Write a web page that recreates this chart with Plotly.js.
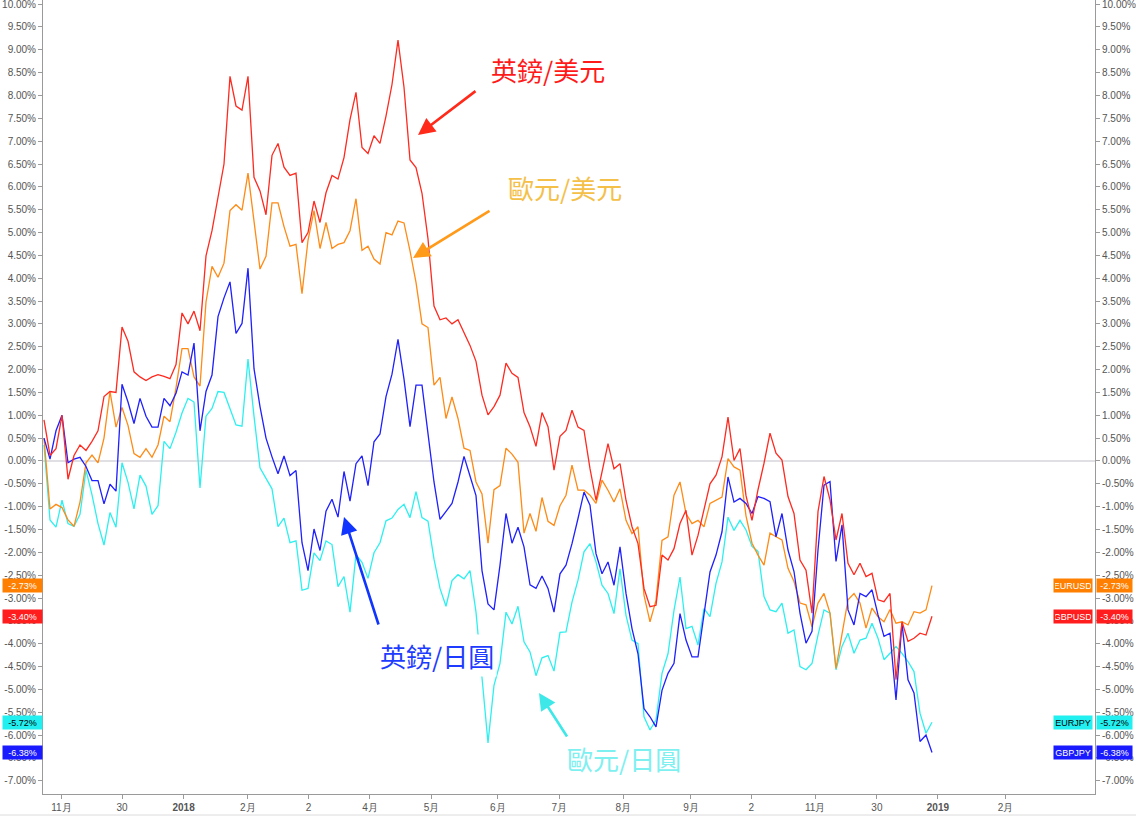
<!DOCTYPE html>
<html><head><meta charset="utf-8">
<script src="https://cdn.plot.ly/plotly-3.0.1.min.js"></script>
<style>html,body{margin:0;padding:0;background:#fff;}#chart{width:1136px;height:820px;}</style>
</head><body><div id="chart"></div>
<script>
// ---- data (percent change), one value per ~2 trading days ----
const seriesNames = ['GBPUSD','EURUSD','GBPJPY','EURJPY'];
const seriesLabels = ['英鎊/美元','歐元/美元','英鎊/日圓','歐元/日圓'];
const gbpusd = [0.9,0.12,0.27,1.0,-0.4,0.12,0.35,0.23,0.43,0.66,
 1.41,1.52,1.5,2.93,2.62,1.95,1.84,1.76,1.84,1.89,
 1.85,1.8,2.11,3.24,3.0,3.28,2.85,4.49,5.04,5.74,
 6.5,8.42,7.77,7.68,8.42,6.21,5.91,5.39,6.69,6.95,
 6.43,6.25,6.3,4.78,5.0,5.69,5.22,5.87,6.25,6.17,
 6.64,7.47,8.07,6.86,6.73,7.12,6.95,7.55,8.24,
 9.21,8.18,6.59,6.42,5.86,4.86,3.39,3.09,3.13,3.0,
 3.09,2.79,2.53,2.18,1.44,1.01,1.19,1.44,2.14,1.92,
 1.83,1.06,0.75,0.32,1.06,0.75,-0.2,0.54,0.67,
 1.11,0.74,0.67,-0.17,-0.86,-0.24,0.38,-0.17,-0.06,-0.86,
 -1.44,-1.81,-2.79,-3.19,-3.16,-2.06,-2.17,-1.92,-1.37,-1.08,
 -2.06,-1.63,-1.08,-0.5,-0.31,0.09,0.96,0.01,0.27,
 -0.76,-1.3,-0.63,-0.05,0.61,0.17,0.02,-0.78,-1.15,-2.17,
 -2.39,-3.33,-1.11,-0.34,-0.85,-1.73,-1.15,-2.24,-2.49,-2.24,
 -2.53,-2.46,-3.04,-3.08,-2.9,-4.79,-3.52,-3.95,-3.88,-3.77,
 -3.81,-3.40];
const eurusd = [0.5,-1.05,-0.95,-1.02,-1.29,-1.43,-0.9,-0.04,0.13,-0.04,
 0.5,1.52,0.74,1.17,0.78,0.16,0.08,0.27,0.08,0.35,
 0.98,0.86,1.6,2.46,2.46,1.84,1.64,3.48,4.26,4.02,
 4.33,5.48,5.61,5.49,6.3,5.26,4.2,4.48,5.65,5.65,
 5.13,4.7,4.74,3.66,4.83,5.48,4.65,5.22,4.65,4.74,
 4.78,5.04,5.74,4.61,4.7,4.42,4.31,5.0,4.95,
 5.25,5.21,4.6,3.91,3.0,2.92,1.66,1.83,0.93,1.4,
 0.93,0.28,0.23,-0.46,-0.72,-1.8,-0.63,-0.54,0.28,0.15,
 -0.03,-1.58,-1.15,-1.54,-0.8,-1.32,-1.41,-0.98,-0.75,
 -0.09,-0.64,-0.64,-0.75,-0.93,-0.42,-0.64,-0.9,-0.61,-1.3,
 -1.59,-1.44,-2.94,-3.52,-3.05,-1.74,-1.66,-0.75,-0.46,-1.15,
 -1.37,-1.3,-1.44,-0.93,-0.86,-0.79,0.05,-0.13,-0.2,
 -1.2,-1.8,-2.06,-2.28,-1.58,-1.66,-1.73,-2.35,-2.64,-3.11,
 -3.15,-3.63,-3.11,-2.9,-3.33,-4.54,-3.77,-3.04,-2.9,-3.11,
 -3.66,-3.22,-3.41,-3.52,-3.25,-3.55,-3.52,-3.59,-3.3,-3.33,
 -3.26,-2.73];
const gbpjpy = [0.5,0.04,0.66,1.0,-0.04,0.04,0.08,-0.12,-0.43,-0.43,
 -0.94,-0.51,-0.66,1.68,1.29,0.82,1.37,0.98,0.74,0.74,
 1.37,1.21,1.48,1.95,1.88,2.58,0.66,1.52,1.88,3.16,
 3.57,3.92,2.79,3.01,4.22,2.02,1.19,0.5,0.09,-0.28,
 0.11,-0.32,-0.21,-1.79,-2.4,-1.49,-1.96,-1.1,-0.84,-1.23,
 -0.23,-0.88,-0.06,0.11,-0.54,0.42,0.59,1.41,1.9,
 2.66,1.79,0.75,1.66,1.66,0.6,-0.46,-1.28,-1.11,-0.93,
 -0.46,0.1,-0.33,-0.76,-2.4,-3.13,-3.26,-2.28,-1.15,-1.8,
 -1.45,-1.88,-2.71,-2.79,-2.52,-2.79,-3.31,-2.47,-2.28,
 -1.81,-1.26,-0.68,-0.97,-2.03,-2.47,-2.21,-2.72,-1.88,-2.9,
 -3.67,-4.22,-5.42,-5.6,-5.82,-5.02,-4.65,-4.43,-3.34,-3.92,
 -4.29,-4.29,-3.34,-2.43,-2.06,-1.55,-0.35,-0.9,-0.82,
 -0.93,-1.15,-0.78,-0.82,-0.89,-1.66,-1.15,-1.95,-2.42,-3.33,
 -3.99,-3.73,-1.95,-0.53,-0.45,-2.2,-1.4,-3.26,-3.59,-2.9,
 -2.97,-2.82,-3.37,-3.84,-3.77,-5.23,-3.55,-4.79,-5.08,-6.14,
 -6.0,-6.38];
const eurjpy = [0.35,-1.29,-1.45,-0.86,-1.37,-1.43,-1.17,-0.2,-0.74,-1.37,
 -1.84,-1.13,-1.45,-0.04,-0.47,-1.05,-0.31,-0.55,-1.17,-0.98,
 0.43,0.27,0.63,1.05,1.37,1.29,-0.59,0.98,1.15,1.52,
 1.5,1.15,0.79,0.76,2.23,0.98,-0.15,-0.38,-0.61,-1.44,
 -1.25,-1.79,-1.75,-2.83,-2.79,-2.01,-2.18,-1.75,-1.83,-2.75,
 -2.53,-3.31,-2.05,-2.22,-2.57,-2.01,-1.79,-1.31,-1.25,
 -1.06,-0.95,-1.24,-0.67,-1.24,-1.32,-2.15,-2.79,-3.18,-2.62,
 -2.49,-2.58,-2.4,-3.31,-4.74,-6.17,-4.91,-4.43,-3.31,-3.57,
 -3.18,-3.96,-4.18,-4.7,-4.31,-4.26,-4.6,-3.75,-3.74,
 -3.09,-2.61,-1.99,-1.81,-2.21,-2.72,-2.9,-3.34,-2.36,-3.38,
 -3.92,-4.0,-5.6,-5.89,-5.67,-4.65,-4.22,-3.27,-2.54,-3.67,
 -3.62,-4.03,-3.23,-3.41,-2.68,-2.21,-1.23,-1.52,-1.3,
 -1.51,-1.87,-1.98,-2.97,-3.26,-3.3,-3.11,-3.77,-3.7,-4.5,
 -4.57,-4.43,-3.81,-3.26,-3.33,-4.57,-4.06,-3.77,-4.21,-3.92,
 -3.88,-3.55,-3.88,-4.35,-4.21,-4.06,-4.21,-4.39,-4.61,-5.52,
 -5.96,-5.72];
const xTickLabels = ['11月','30','2018','2月','2','4月','5月','6月','7月','8月','9月','2','11月','30','2019','2月'];
const xTickBold = ['2018','2019'];

// ---- positions / styles ----
const xTickIdx = [2.9,13,23.27,33.98,44.1,54.33,64.57,75.65,85.88,96.53,107.82,117.87,128.52,138.82,148.98,160.27];
const W=1136,H=820,L=43,R=41,T=0,B=26;
const PW=W-L-R, PH=H-T-B;
const pxX = p => (p-L)/PW;
const pxY = p => (H-B-p)/PH;
const yRange=[-7.29,10.09];
const xRange=[-1/6,(1095-44)/6];
const lineColors = {GBPUSD:'#ff2a1f',EURUSD:'#ff8a14',GBPJPY:'#1f1fff',EURJPY:'#2cf0f0'};
const boxColors  = {GBPUSD:'#ff1d1d',EURUSD:'#ff8000',GBPJPY:'#1a1aff',EURJPY:'#22f0f0'};
const boxText    = {GBPUSD:'#ffffff',EURUSD:'#ffffff',GBPJPY:'#ffffff',EURJPY:'#000000'};
const series = {GBPUSD:gbpusd,EURUSD:eurusd,GBPJPY:gbpjpy,EURJPY:eurjpy};
const idx = gbpusd.map((_,i)=>i);

const yTickVals=[], yTickText=[];
for(let k=-14;k<=20;k++){const v=k/2; yTickVals.push(v); yTickText.push((v<0?'-':'')+Math.abs(v).toFixed(2)+'%');}

const drawOrder=['EURJPY','EURUSD','GBPJPY','GBPUSD'];
const traces = drawOrder.map(n=>({type:'scatter',mode:'lines',x:idx,y:series[n],name:n,
  line:{color:lineColors[n],width:1.3},hoverinfo:'skip'}));
traces.push({type:'scatter',mode:'lines',x:[idx[idx.length-1]],y:[eurusd[eurusd.length-1]],yaxis:'y2',
  line:{color:lineColors.EURUSD,width:1.3},hoverinfo:'skip',showlegend:false});

const axisFont={family:'Liberation Sans, Arial, sans-serif',size:10,color:'#555'};
const yBase={range:yRange,tickvals:yTickVals,ticktext:yTickText,ticks:'outside',ticklen:4,tickcolor:'#9a9a9a',
  showline:true,linecolor:'#9a9a9a',linewidth:1,showgrid:false,tickfont:axisFont,fixedrange:true,
  ticklabeloverflow:'allow'};

const ann=[];
// value boxes
seriesNames.forEach(n=>{
  const v=series[n][series[n].length-1];
  const t=(v<0?'-':'')+Math.abs(v).toFixed(2)+'%';
  const common={yref:'y',y:v,yanchor:'middle',showarrow:false,bgcolor:boxColors[n],borderpad:1,height:11,
    font:{family:'Liberation Sans, Arial, sans-serif',size:9,color:boxText[n]}};
  ann.push(Object.assign({xref:'paper',x:0,xanchor:'right',text:t,width:37},common));
  ann.push(Object.assign({xref:'paper',x:1,xanchor:'right',xshift:-2,text:n,width:36},common));
  ann.push(Object.assign({xref:'paper',x:1,xanchor:'left',xshift:1,text:t,width:33},common));
});
// big labels
const bigLab=[
 {t:seriesLabels[0],c:'#ff1a1a',x:548,y:70},
 {t:seriesLabels[1],c:'#f4c048',x:565,y:188},
 {t:seriesLabels[2],c:'#1d3cff',x:437,y:655},
 {t:seriesLabels[3],c:'#7ef0f0',x:624,y:758}];
bigLab.forEach(b=>ann.push({xref:'paper',yref:'paper',x:pxX(b.x),y:pxY(b.y),xanchor:'center',yanchor:'middle',
  text:b.t,showarrow:false,bgcolor:'#ffffff',borderpad:2,
  font:{family:'Noto Sans CJK TC, Noto Sans CJK SC, sans-serif',size:26,color:b.c}}));
// arrows: tip (x,y) and tail offset
const arrows=[
 {c:'#ff2a1a',tx:418,ty:135,ax:59,ay:-45},
 {c:'#ff9a1a',tx:413,ty:258,ax:78,ay:-48},
 {c:'#1035ff',tx:344,ty:517,ax:35,ay:109},
 {c:'#3ee8e8',tx:539,ty:693,ax:29,ay:45}];
arrows.forEach(a=>ann.push({xref:'paper',yref:'paper',x:pxX(a.tx),y:pxY(a.ty),ax:a.ax,ay:a.ay,axref:'pixel',ayref:'pixel',
  text:'',showarrow:true,arrowhead:2,arrowsize:1.3,arrowwidth:2.6,arrowcolor:a.c,standoff:0,startstandoff:0}));

const layout={
  width:W,height:H,margin:{l:L,r:R,t:T,b:B,pad:0},
  paper_bgcolor:'#ffffff',plot_bgcolor:'#ffffff',showlegend:false,
  font:axisFont,
  xaxis:{range:xRange,tickvals:xTickIdx,
    ticktext:xTickLabels.map(s=>xTickBold.includes(s)?'<b>'+s+'</b>':s),
    ticks:'outside',ticklen:4,tickcolor:'#9a9a9a',showline:true,linecolor:'#9a9a9a',linewidth:1,
    showgrid:false,zeroline:false,tickfont:axisFont,fixedrange:true},
  yaxis:Object.assign({},yBase,{side:'left',zeroline:true,zerolinecolor:'#dfdfe4',zerolinewidth:1.5}),
  yaxis2:Object.assign({},yBase,{side:'right',overlaying:'y',zeroline:false}),
  annotations:ann,
  shapes:[{type:'line',xref:'paper',yref:'paper',x0:pxX(0),x1:pxX(W),y0:pxY(815),y1:pxY(815),
    line:{color:'#dcdcdc',width:1}}]
};
Plotly.newPlot('chart',traces,layout,{displayModeBar:false,staticPlot:true});
</script></body></html>
